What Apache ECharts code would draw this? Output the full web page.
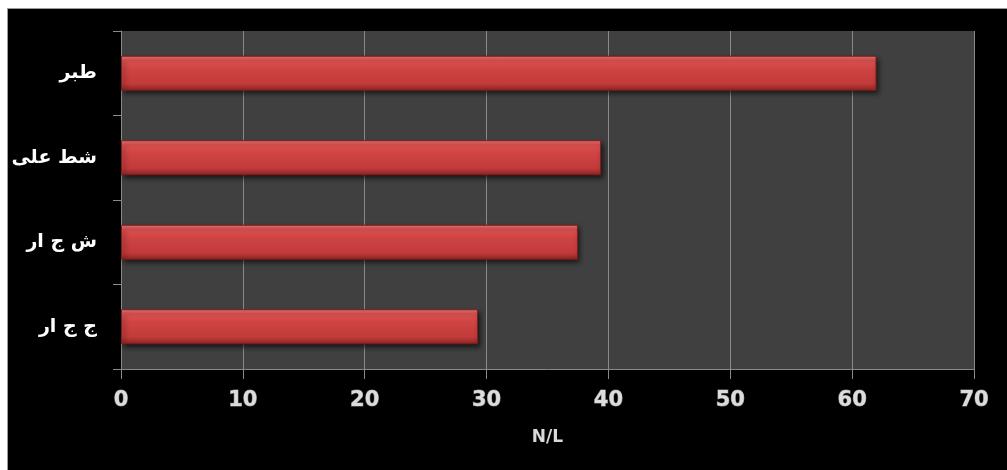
<!DOCTYPE html>
<html>
<head>
<meta charset="utf-8">
<script src="https://cdn.jsdelivr.net/npm/echarts@6/dist/echarts.min.js"></script>
<style>
  html, body { margin: 0; padding: 0; background: #ffffff; }
  #wrap { position: absolute; left: 0; top: 0; width: 1007px; height: 470px; background: #ffffff; }
  #chart {
    position: absolute; left: 7px; top: 8px; width: 1000px; height: 462px;
    background: #000000; box-sizing: border-box;
    border-left: 1px solid #9a9a9a; border-top: 1px solid #9a9a9a;
  }
</style>
</head>
<body>
<div id="wrap"><div id="chart"></div></div>
<script>
// Categories listed bottom-to-top (ECharts category y-axis order)
const categories = ['ج ج ار', 'ش ج ار', 'شط على', 'طبر'];
const values = [29.3, 37.5, 39.4, 62.0];
const axisName = 'N/L';

const chart = echarts.init(document.getElementById('chart'), null, { renderer: 'canvas' });

const barFill = new echarts.graphic.LinearGradient(0, 0, 0, 1, [
  { offset: 0.0, color: '#f47c7c' },
  { offset: 0.12, color: '#e45656' },
  { offset: 0.35, color: '#d04444' },
  { offset: 0.8, color: '#c23a3a' },
  { offset: 1.0, color: '#8e2424' }
]);

chart.setOption({
  backgroundColor: 'transparent',
  animation: false,
  grid: {
    left: 113, right: 33, top: 22, bottom: 101,
    show: true, backgroundColor: '#404040', borderWidth: 0
  },
  xAxis: {
    type: 'value',
    min: 0, max: 70, interval: 10,
    name: axisName,
    nameLocation: 'middle',
    nameGap: 60,
    nameTextStyle: { color: '#d9d9d9', fontSize: 17, fontWeight: 'bold', fontFamily: 'DejaVu Sans' },
    axisLine: { show: true, lineStyle: { color: '#8a8a8a', width: 1 } },
    axisTick: { show: true, length: 10, lineStyle: { color: '#8a8a8a' } },
    axisLabel: {
      margin: 21,
      color: '#dcdcdc', fontSize: 21, fontWeight: 'bold', fontFamily: 'DejaVu Sans',
      textBorderColor: '#7a7a7a', textBorderWidth: 1
    },
    splitLine: { show: true, lineStyle: { color: '#8a8a8a', width: 1 } }
  },
  yAxis: {
    type: 'category',
    data: categories,
    axisLine: { show: true, lineStyle: { color: '#8a8a8a', width: 1 } },
    axisTick: { show: true, length: 8, lineStyle: { color: '#8a8a8a' } },
    axisLabel: {
      margin: 24,
      color: '#ffffff', fontSize: 19, fontWeight: 'bold', fontFamily: 'DejaVu Sans'
    },
    splitLine: { show: false }
  },
  series: [{
    type: 'bar',
    data: values,
    barWidth: 35,
    itemStyle: {
      color: barFill,
      borderColor: '#7c1e1e',
      borderWidth: 1,
      shadowColor: 'rgba(0,0,0,0.7)',
      shadowBlur: 5,
      shadowOffsetX: 2,
      shadowOffsetY: 3
    }
  }]
});
</script>
</body>
</html>
